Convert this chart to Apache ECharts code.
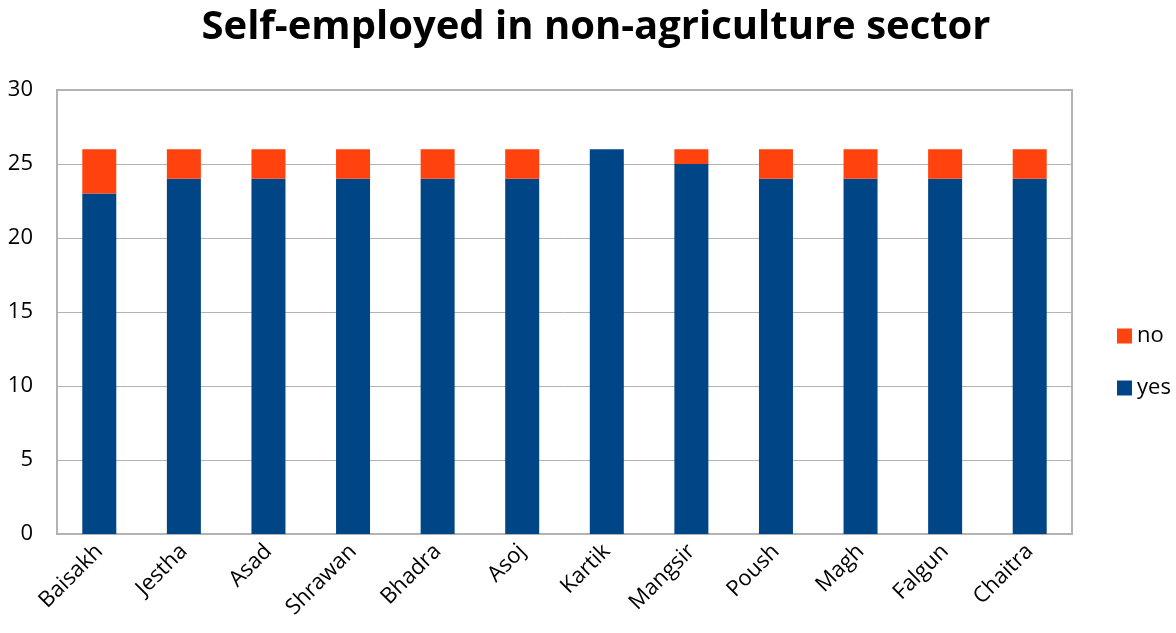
<!DOCTYPE html>
<html>
<head>
<meta charset="utf-8">
<script src="https://cdn.jsdelivr.net/npm/echarts@6/dist/echarts.min.js"></script>
<style>
  html, body { margin: 0; padding: 0; background: #fff; }
  #main { width: 1176px; height: 633px; }
</style>
</head>
<body>
<div id="main"></div>
<script>
var months = ['Baisakh', 'Jestha', 'Asad', 'Shrawan', 'Bhadra', 'Asoj', 'Kartik', 'Mangsir', 'Poush', 'Magh', 'Falgun', 'Chaitra'];
var yes = [23, 24, 24, 24, 24, 24, 26, 25, 24, 24, 24, 24];
var no = [3, 2, 2, 2, 2, 2, 0, 1, 2, 2, 2, 2];

var font = 'Open Sans, Liberation Sans, sans-serif';
var myChart = echarts.init(document.getElementById('main'));
var option = {
  animation: false,
  title: {
    text: 'Self-employed in non-agriculture sector',
    left: 591,
    textAlign: 'center',
    top: 3,
    textStyle: { fontFamily: font, fontSize: 40, fontWeight: 'bold', color: '#000' }
  },
  legend: {
    orient: 'vertical',
    left: 1112,
    top: 320,
    itemWidth: 15,
    itemHeight: 15,
    itemGap: 30,
    icon: 'rect',
    data: ['no', 'yes'],
    textStyle: { fontFamily: font, fontSize: 22, color: '#000' }
  },
  grid: {
    left: 57, right: 104, top: 90, bottom: 99,
    show: true, borderColor: '#b3b3b3', borderWidth: 2
  },
  xAxis: {
    type: 'category',
    data: months,
    axisTick: { show: false },
    axisLine: { lineStyle: { color: '#b3b3b3', width: 2 } },
    axisLabel: { rotate: 45, margin: 14, fontFamily: font, fontSize: 22, color: '#000' }
  },
  yAxis: {
    type: 'value',
    min: 0, max: 30, interval: 5,
    axisLabel: { margin: 24, fontFamily: font, fontSize: 22, color: '#000' },
    splitLine: { lineStyle: { color: '#b3b3b3', width: 1 } }
  },
  series: [
    { name: 'yes', type: 'bar', stack: 'a', barWidth: 34, data: yes, itemStyle: { color: '#004586' } },
    { name: 'no', type: 'bar', stack: 'a', barWidth: 34, data: no, itemStyle: { color: '#ff420e' } }
  ]
};
myChart.setOption(option);
</script>
</body>
</html>
